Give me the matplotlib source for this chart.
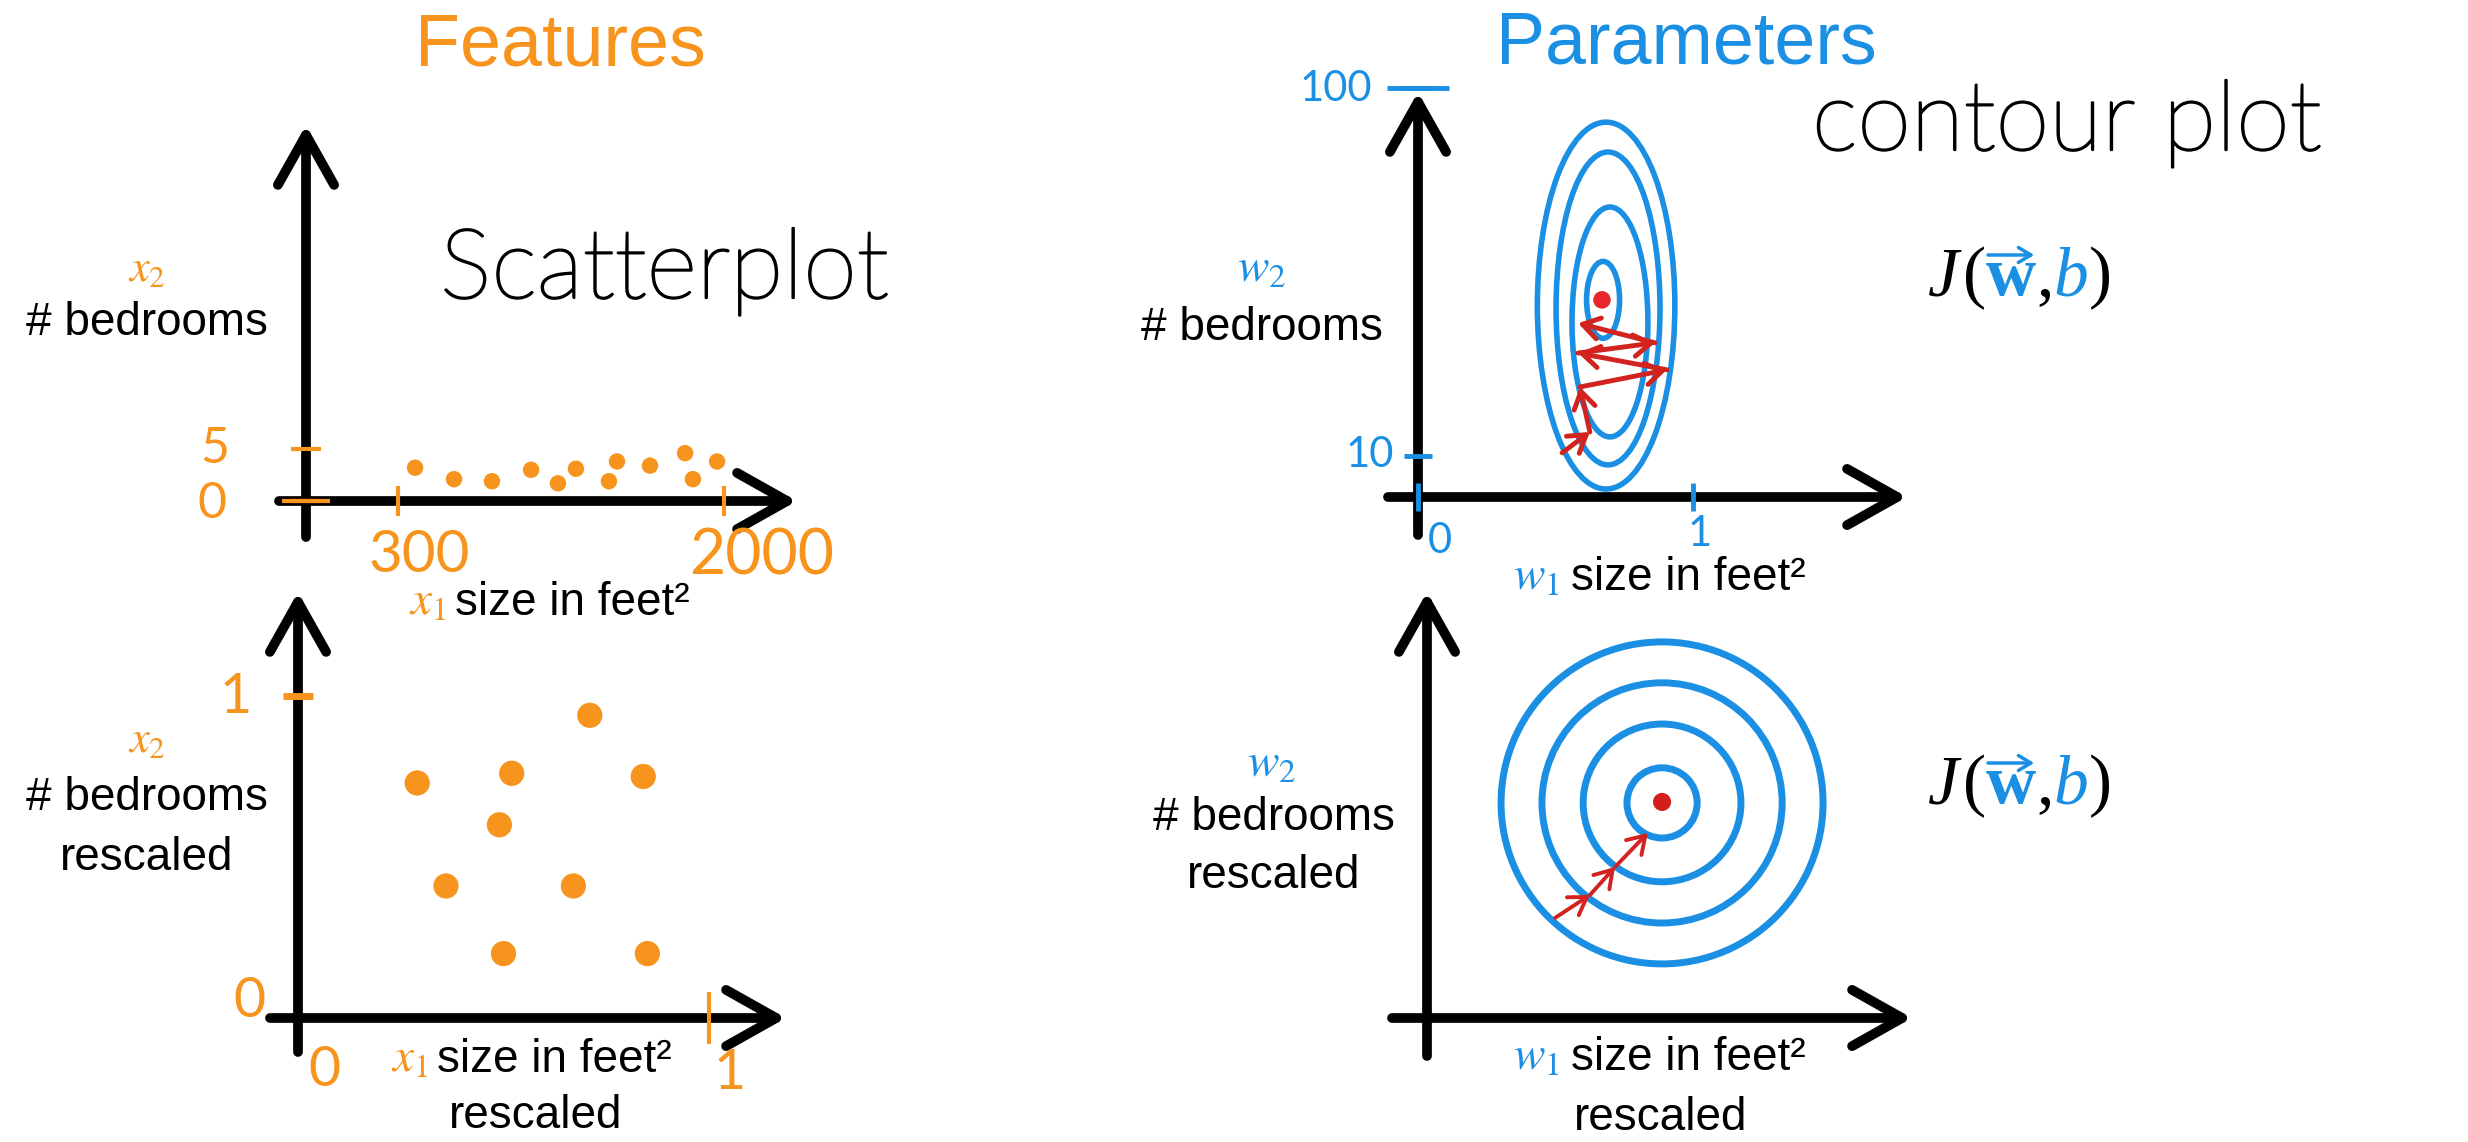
import matplotlib.pyplot as plt
import matplotlib.patheffects as pe
from matplotlib.patches import Ellipse, Circle

plt.rcParams['mathtext.fontset'] = 'stix'

W, H = 2468, 1142
ORANGE = '#F7941D'
BLUE = '#1A8FE3'
RED = '#D2231F'
SANS = 'Liberation Sans'
HAND = 'Lato'

# --- data ---
# features, raw
size_sqft = [389, 592, 790, 994, 1134, 1228, 1400, 1442, 1614, 1797, 1838, 1964]
bedrooms = [3.2, 2.1, 1.9, 3.0, 1.7, 3.1, 1.9, 3.8, 3.4, 4.6, 2.1, 3.8]
sqft_ticks = [300, 2000]
bed_ticks = [0, 5]
# features, rescaled
size_rescaled = [0.71, 0.29, 0.52, 0.84, 0.49, 0.36, 0.67, 0.50, 0.85]
bed_rescaled = [0.94, 0.73, 0.76, 0.75, 0.60, 0.41, 0.41, 0.20, 0.20]
rescaled_ticks = [0, 1]
# parameters, raw: cost contours (ellipses) and gradient descent path
w1_ticks = [0, 1]
w2_ticks = [10, 100]
ell_w1 = [0.684, 0.691, 0.698, 0.673]
ell_w2 = [46.8, 46.1, 42.8, 48.2]
ell_width = [0.50, 0.378, 0.276, 0.12]
ell_height = [89.7, 76.5, 56.2, 18.8]
raw_min = (0.669, 48.2)
raw_path_w1 = [0.524, 0.625, 0.589, 0.905, 0.582, 0.862, 0.582]
raw_path_w2 = [10.8, 15.9, 26.9, 31.1, 35.2, 37.7, 42.5]
# parameters, rescaled: circular contours
ring_center = (0.730, 0.668)
ring_radius = [0.50, 0.373, 0.245, 0.109]
scaled_min = (0.730, 0.671)
scaled_path_w1 = [0.398, 0.506, 0.584, 0.686]
scaled_path_w2 = [0.311, 0.382, 0.469, 0.575]

fig = plt.figure(figsize=(W / 100, H / 100), dpi=100)
canvas = fig.add_axes([0, 0, 1, 1])
canvas.set_xlim(0, W)
canvas.set_ylim(H, 0)
canvas.axis('off')


def panel(box, xcal, ycal):
    # box in pixels (left, top, right, bottom); cal = two (pixel, value) pairs
    l, t, r, b = box
    ax = fig.add_axes([l / W, 1 - b / H, (r - l) / W, (b - t) / H])
    (px0, v0), (px1, v1) = xcal
    (py0, u0), (py1, u1) = ycal
    fx = lambda p: v0 + (p - px0) * (v1 - v0) / (px1 - px0)
    fy = lambda p: u0 + (p - py0) * (u1 - u0) / (py1 - py0)
    ax.set_xlim(fx(l), fx(r))
    ax.set_ylim(fy(b), fy(t))
    ax.axis('off')
    ax.patch.set_alpha(0)
    return ax, fx


def axis_arrow(x0, y0, x1, y1):
    canvas.annotate('', xy=(x1, y1), xytext=(x0, y0),
                    arrowprops=dict(arrowstyle='->,head_length=0.8,head_width=0.45',
                                    lw=7, color='black', mutation_scale=45,
                                    shrinkA=0, shrinkB=0))


def tick_label(ax, x, y, s, dx, dy, color, size):
    ax.annotate(s, xy=(x, y), xytext=(dx, dy), textcoords='offset points',
                ha='center', va='center', color=color, fontsize=size,
                family=HAND, annotation_clip=False)


def path_arrows(ax, xs, ys, lw, ms):
    for i in range(len(xs) - 1):
        ax.annotate('', xy=(xs[i + 1], ys[i + 1]), xytext=(xs[i], ys[i]),
                    arrowprops=dict(arrowstyle='->,head_length=0.55,head_width=0.35',
                                    color=RED, lw=lw, mutation_scale=ms,
                                    shrinkA=0, shrinkB=0))


def handwriting(x, y, s):
    canvas.text(x, y, s, fontsize=70, ha='left', va='baseline', family=HAND,
                fontweight='light', color='black',
                path_effects=[pe.withStroke(linewidth=1.6, foreground='black')])


# titles
canvas.text(560, 65, 'Features', fontsize=53, color=ORANGE, ha='center',
            va='baseline', family=SANS)
canvas.text(1686, 63, 'Parameters', fontsize=53, color=BLUE, ha='center',
            va='baseline', family=SANS)

# ---------------- top left: raw features ----------------
axis_arrow(306, 537, 306, 125)
axis_arrow(279, 501, 797, 501)
ax, fx = panel((250, 90, 820, 590), ((398, 300), (724, 2000)), ((501, 0), (449, 5)))
yaxis = fx(306)
ax.scatter(size_sqft, bedrooms, s=140, color=ORANGE, edgecolors='none', clip_on=False)
ax.plot(sqft_ticks, [0, 0], ls='none', marker='|', ms=22, mew=3, color=ORANGE)
ax.plot([yaxis, yaxis], bed_ticks, ls='none', marker='_', ms=22, mew=3, color=ORANGE)
ax.plot([yaxis], [0], marker='_', ms=34, mew=3, color=ORANGE)
tick_label(ax, sqft_ticks[0], 0, '300', 15, -39, ORANGE, 42)
tick_label(ax, sqft_ticks[1], 0, '2000', 27, -40, ORANGE, 45)
tick_label(ax, yaxis, bed_ticks[1], '5', -66, 0, ORANGE, 36)
tick_label(ax, yaxis, bed_ticks[0], '0', -68, -2, ORANGE, 36)

canvas.text(147, 281, '$x_2$', color=ORANGE, fontsize=32, ha='center', va='baseline')
canvas.text(147, 335, '# bedrooms', fontsize=33, ha='center', va='baseline', family=SANS)
canvas.text(446, 615, '$x_1$', color=ORANGE, fontsize=34, ha='right', va='baseline')
canvas.text(455, 615, 'size in feet\u00b2', fontsize=33, ha='left', va='baseline', family=SANS)
handwriting(440, 298, 'Scatterplot')

# ---------------- bottom left: rescaled features ----------------
axis_arrow(298, 1052, 298, 592)
axis_arrow(270, 1018, 786, 1018)
ax, fx = panel((250, 580, 820, 1080), ((298, 0), (709, 1)), ((1018, 0), (696, 1)))
ax.scatter(size_rescaled, bed_rescaled, s=330, color=ORANGE, edgecolors='none', clip_on=False)
ax.plot([0], [rescaled_ticks[1]], marker='_', ms=22, mew=5, color=ORANGE)
ax.plot([rescaled_ticks[1]], [0], marker='|', ms=38, mew=3, color=ORANGE)
tick_label(ax, 0, rescaled_ticks[1], '1', -45, -1, ORANGE, 40)
tick_label(ax, 0, rescaled_ticks[0], '0', -35, 12, ORANGE, 40)
tick_label(ax, rescaled_ticks[0], 0, '0', 19, -38, ORANGE, 40)
tick_label(ax, rescaled_ticks[1], 0, '1', 15, -40, ORANGE, 40)

canvas.text(147, 752, '$x_2$', color=ORANGE, fontsize=32, ha='center', va='baseline')
canvas.text(147, 810, '# bedrooms', fontsize=33, ha='center', va='baseline', family=SANS)
canvas.text(147, 870, 'rescaled', fontsize=33, ha='center', va='baseline', family=SANS)
canvas.text(428, 1072, '$x_1$', color=ORANGE, fontsize=34, ha='right', va='baseline')
canvas.text(437, 1072, 'size in feet\u00b2', fontsize=33, ha='left', va='baseline', family=SANS)
canvas.text(536, 1128, 'rescaled', fontsize=33, ha='center', va='baseline', family=SANS)

# ---------------- top right: raw parameters ----------------
axis_arrow(1418, 535, 1418, 92)
axis_arrow(1388, 497, 1907, 497)
ax, fx = panel((1360, 60, 1940, 560), ((1418, 0), (1693, 1)), ((497, 0), (88, 100)))
for cx, cy, ew, eh in zip(ell_w1, ell_w2, ell_width, ell_height):
    ax.add_patch(Ellipse((cx, cy), ew, eh, fill=False, ec=BLUE, lw=4))
path_arrows(ax, raw_path_w1, raw_path_w2, 3.5, 22)
ax.scatter([raw_min[0]], [raw_min[1]], s=160, color='#E8262B', edgecolors='none')
ax.plot([0, 0], w2_ticks, ls='none', marker='_', ms=20, mew=3.5, color=BLUE)
ax.plot([0], [w2_ticks[1]], marker='_', ms=44, mew=3.5, color=BLUE)
ax.plot(w1_ticks, [0, 0], ls='none', marker='|', ms=20, mew=3.5, color=BLUE)
tick_label(ax, 0, w2_ticks[1], '100', -59, -1, BLUE, 30)
tick_label(ax, 0, w2_ticks[0], '10', -35, 1, BLUE, 30)
tick_label(ax, w1_ticks[0], 0, '0', 16, -32, BLUE, 30)
tick_label(ax, w1_ticks[1], 0, '1', 5, -27, BLUE, 30)

canvas.text(1262, 282, '$w_2$', color=BLUE, fontsize=34, ha='center', va='baseline')
canvas.text(1262, 340, '# bedrooms', fontsize=33, ha='center', va='baseline', family=SANS)
canvas.text(1560, 590, '$w_1$', color=BLUE, fontsize=34, ha='right', va='baseline')
canvas.text(1571, 590, 'size in feet\u00b2', fontsize=33, ha='left', va='baseline', family=SANS)
handwriting(1812, 150, 'contour plot')

# ---------------- bottom right: rescaled parameters ----------------
axis_arrow(1427, 1056, 1427, 592)
axis_arrow(1392, 1018, 1912, 1018)
ax, fx = panel((1360, 580, 1940, 1080), ((1427, 0), (1749, 1)), ((1018, 0), (696, 1)))
for r in ring_radius:
    ax.add_patch(Circle(ring_center, r, fill=False, ec=BLUE, lw=5))
path_arrows(ax, scaled_path_w1, scaled_path_w2, 2.8, 22)
ax.scatter([scaled_min[0]], [scaled_min[1]], s=170, color='#D41E1E', edgecolors='none')

canvas.text(1272, 777, '$w_2$', color=BLUE, fontsize=34, ha='center', va='baseline')
canvas.text(1274, 830, '# bedrooms', fontsize=33, ha='center', va='baseline', family=SANS)
canvas.text(1274, 888, 'rescaled', fontsize=33, ha='center', va='baseline', family=SANS)
canvas.text(1560, 1070, '$w_1$', color=BLUE, fontsize=34, ha='right', va='baseline')
canvas.text(1571, 1070, 'size in feet\u00b2', fontsize=33, ha='left', va='baseline', family=SANS)
canvas.text(1661, 1130, 'rescaled', fontsize=33, ha='center', va='baseline', family=SANS)

# ---------------- cost function labels J(w, b) ----------------
renderer = fig.canvas.get_renderer()
inv = canvas.transData.inverted()


def cost_label(x, y):
    pieces = [('J', 'black', dict(style='italic')),
              ('(', 'black', {}),
              ('w', BLUE, dict(weight='bold')),
              (',', 'black', {}),
              ('b', BLUE, dict(style='italic')),
              (')', 'black', {})]
    for txt, col, kw in pieces:
        t = canvas.text(x, y, txt, color=col, fontsize=50, family='Liberation Serif',
                        ha='left', va='baseline', **kw)
        bb = t.get_window_extent(renderer)
        x0 = inv.transform((bb.x0, bb.y0))[0]
        x1 = inv.transform((bb.x1, bb.y0))[0]
        if txt == 'w':
            canvas.annotate('', xy=(x1 - 2, y - 40), xytext=(x0 + 2, y - 40),
                            arrowprops=dict(arrowstyle='->,head_length=0.5,head_width=0.3',
                                            color=BLUE, lw=2.5, mutation_scale=18,
                                            shrinkA=0, shrinkB=0))
        if txt == 'J':
            x1 += 4
        x = x1


cost_label(1928, 295)
cost_label(1928, 803)

fig.savefig('out.png', dpi=100, facecolor='white')
